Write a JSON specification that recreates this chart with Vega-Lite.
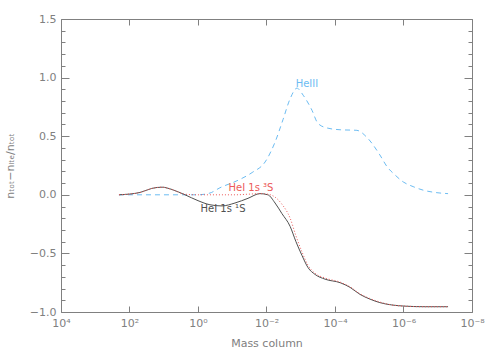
{
  "$schema": "https://vega.github.io/schema/vega-lite/v6.json",
  "width": 411,
  "height": 293,
  "autosize": "none",
  "padding": {"left": 61, "top": 19, "right": 19, "bottom": 38},
  "background": "white",
  "config": {
    "view": {"stroke": "#808080", "strokeWidth": 1},
    "font": "DejaVu Sans",
    "axis": {"domain": false, "grid": false, "tickColor": "#808080", "labelColor": "#808080", "titleColor": "#808080", "labelFont": "DejaVu Sans", "titleFont": "DejaVu Sans", "labelFontSize": 11, "titleFontSize": 11, "titleFontWeight": "normal"}
  },
  "data": {"values": [
    {"m": 202.8, "v": 0.0, "s": "HeIII"},
    {"m": 12.9, "v": 0.0, "s": "HeIII"},
    {"m": 1, "v": 0.0, "s": "HeIII"},
    {"m": 0.447, "v": 0.015, "s": "HeIII"},
    {"m": 0.229, "v": 0.06, "s": "HeIII"},
    {"m": 0.0724, "v": 0.12, "s": "HeIII"},
    {"m": 0.0263, "v": 0.19, "s": "HeIII"},
    {"m": 0.011, "v": 0.28, "s": "HeIII"},
    {"m": 0.00562, "v": 0.45, "s": "HeIII"},
    {"m": 0.00331, "v": 0.64, "s": "HeIII"},
    {"m": 0.00204, "v": 0.82, "s": "HeIII"},
    {"m": 0.00129, "v": 0.91, "s": "HeIII"},
    {"m": 0.000851, "v": 0.85, "s": "HeIII"},
    {"m": 0.000468, "v": 0.72, "s": "HeIII"},
    {"m": 0.000316, "v": 0.61, "s": "HeIII"},
    {"m": 0.00017, "v": 0.57, "s": "HeIII"},
    {"m": 7.08e-5, "v": 0.555, "s": "HeIII"},
    {"m": 2.29e-5, "v": 0.55, "s": "HeIII"},
    {"m": 1.17e-5, "v": 0.49, "s": "HeIII"},
    {"m": 4.9e-6, "v": 0.34, "s": "HeIII"},
    {"m": 3.02e-6, "v": 0.24, "s": "HeIII"},
    {"m": 1.78e-6, "v": 0.17, "s": "HeIII"},
    {"m": 1.02e-6, "v": 0.11, "s": "HeIII"},
    {"m": 5.25e-7, "v": 0.07, "s": "HeIII"},
    {"m": 2.69e-7, "v": 0.04, "s": "HeIII"},
    {"m": 1.2e-7, "v": 0.02, "s": "HeIII"},
    {"m": 5.0e-8, "v": 0.01, "s": "HeIII"},

    {"m": 202.8, "v": 0.0, "s": "HeI 1s 1S"},
    {"m": 49.3, "v": 0.02, "s": "HeI 1s 1S"},
    {"m": 22.0, "v": 0.055, "s": "HeI 1s 1S"},
    {"m": 11.2, "v": 0.065, "s": "HeI 1s 1S"},
    {"m": 5.74, "v": 0.045, "s": "HeI 1s 1S"},
    {"m": 2.4, "v": 0.0, "s": "HeI 1s 1S"},
    {"m": 1, "v": -0.05, "s": "HeI 1s 1S"},
    {"m": 0.447, "v": -0.085, "s": "HeI 1s 1S"},
    {"m": 0.2, "v": -0.095, "s": "HeI 1s 1S"},
    {"m": 0.0832, "v": -0.07, "s": "HeI 1s 1S"},
    {"m": 0.0347, "v": -0.03, "s": "HeI 1s 1S"},
    {"m": 0.0155, "v": 0.01, "s": "HeI 1s 1S"},
    {"m": 0.00912, "v": 0.0, "s": "HeI 1s 1S"},
    {"m": 0.00562, "v": -0.07, "s": "HeI 1s 1S"},
    {"m": 0.00355, "v": -0.16, "s": "HeI 1s 1S"},
    {"m": 0.00204, "v": -0.27, "s": "HeI 1s 1S"},
    {"m": 0.00138, "v": -0.4, "s": "HeI 1s 1S"},
    {"m": 0.000912, "v": -0.52, "s": "HeI 1s 1S"},
    {"m": 0.000617, "v": -0.62, "s": "HeI 1s 1S"},
    {"m": 0.00038, "v": -0.68, "s": "HeI 1s 1S"},
    {"m": 0.000195, "v": -0.72, "s": "HeI 1s 1S"},
    {"m": 7.08e-5, "v": -0.75, "s": "HeI 1s 1S"},
    {"m": 3.63e-5, "v": -0.79, "s": "HeI 1s 1S"},
    {"m": 1.86e-5, "v": -0.85, "s": "HeI 1s 1S"},
    {"m": 9.55e-6, "v": -0.89, "s": "HeI 1s 1S"},
    {"m": 4.9e-6, "v": -0.92, "s": "HeI 1s 1S"},
    {"m": 2.19e-6, "v": -0.94, "s": "HeI 1s 1S"},
    {"m": 9.12e-7, "v": -0.95, "s": "HeI 1s 1S"},
    {"m": 2.34e-7, "v": -0.955, "s": "HeI 1s 1S"},
    {"m": 5.0e-8, "v": -0.955, "s": "HeI 1s 1S"},

    {"m": 202.8, "v": 0.0, "s": "HeI 1s 3S"},
    {"m": 49.3, "v": 0.02, "s": "HeI 1s 3S"},
    {"m": 22.0, "v": 0.055, "s": "HeI 1s 3S"},
    {"m": 11.2, "v": 0.065, "s": "HeI 1s 3S"},
    {"m": 5.74, "v": 0.045, "s": "HeI 1s 3S"},
    {"m": 2.4, "v": 0.005, "s": "HeI 1s 3S"},
    {"m": 1, "v": 0.0, "s": "HeI 1s 3S"},
    {"m": 0.447, "v": 0.0, "s": "HeI 1s 3S"},
    {"m": 0.2, "v": 0.0, "s": "HeI 1s 3S"},
    {"m": 0.0832, "v": 0.0, "s": "HeI 1s 3S"},
    {"m": 0.0347, "v": 0.005, "s": "HeI 1s 3S"},
    {"m": 0.0155, "v": 0.01, "s": "HeI 1s 3S"},
    {"m": 0.00912, "v": 0.005, "s": "HeI 1s 3S"},
    {"m": 0.00562, "v": -0.02, "s": "HeI 1s 3S"},
    {"m": 0.00355, "v": -0.08, "s": "HeI 1s 3S"},
    {"m": 0.00204, "v": -0.2, "s": "HeI 1s 3S"},
    {"m": 0.00138, "v": -0.35, "s": "HeI 1s 3S"},
    {"m": 0.000912, "v": -0.49, "s": "HeI 1s 3S"},
    {"m": 0.000617, "v": -0.6, "s": "HeI 1s 3S"},
    {"m": 0.00038, "v": -0.67, "s": "HeI 1s 3S"},
    {"m": 0.000195, "v": -0.71, "s": "HeI 1s 3S"},
    {"m": 7.08e-5, "v": -0.745, "s": "HeI 1s 3S"},
    {"m": 3.63e-5, "v": -0.785, "s": "HeI 1s 3S"},
    {"m": 1.86e-5, "v": -0.845, "s": "HeI 1s 3S"},
    {"m": 9.55e-6, "v": -0.885, "s": "HeI 1s 3S"},
    {"m": 4.9e-6, "v": -0.915, "s": "HeI 1s 3S"},
    {"m": 2.19e-6, "v": -0.94, "s": "HeI 1s 3S"},
    {"m": 9.12e-7, "v": -0.95, "s": "HeI 1s 3S"},
    {"m": 2.34e-7, "v": -0.955, "s": "HeI 1s 3S"},
    {"m": 5.0e-8, "v": -0.955, "s": "HeI 1s 3S"}
  ]},
  "resolve": {"axis": {"x": "independent", "y": "independent"}},
  "layer": [
    {
      "transform": [{"filter": "datum.s === 'HeIII'"}],
      "mark": {"type": "line", "interpolate": "monotone", "strokeWidth": 1, "strokeDash": [5, 4]},
      "encoding": {
        "x": {"field": "m", "type": "quantitative",
          "scale": {"type": "log", "domain": [1e-8, 1e4], "reverse": true, "nice": false},
          "axis": {"orient": "bottom", "title": "Mass column", "titlePadding": 9,
            "values": [1e4, 100, 1, 0.01, 0.0001, 1e-6, 1e-8],
            "tickSize": -6, "labelPadding": 11, "labelFlush": false,
            "labelExpr": "datum.value >= 1000 ? '10⁴' : datum.value >= 10 ? '10²' : datum.value >= 0.1 ? '10⁰' : datum.value >= 0.001 ? '10⁻²' : datum.value >= 1e-5 ? '10⁻⁴' : datum.value >= 1e-7 ? '10⁻⁶' : '10⁻⁸'"}},
        "y": {"field": "v", "type": "quantitative",
          "scale": {"domain": [-1, 1.5], "nice": false, "zero": false},
          "axis": {"orient": "left", "title": "nₜₒₜ−nₗₜₑ/nₜₒₜ", "titlePadding": 14,
            "values": [-1, -0.9, -0.8, -0.7, -0.6, -0.5, -0.4, -0.3, -0.2, -0.1, 0, 0.1, 0.2, 0.3, 0.4, 0.5, 0.6, 0.7, 0.8, 0.9, 1, 1.1, 1.2, 1.3, 1.4, 1.5],
            "tickSize": {"condition": {"test": "abs(datum.value*2 - round(datum.value*2)) < 0.001", "value": -8}, "value": -4},
            "labelPadding": 13,
            "labelFlush": false,
            "labelExpr": "abs(datum.value*2 - round(datum.value*2)) < 0.001 ? format(datum.value, '.1f') : ''"}},
        "color": {"field": "s", "type": "nominal", "legend": null,
          "scale": {"domain": ["HeIII", "HeI 1s 3S", "HeI 1s 1S"], "range": ["#6cbcf2", "#ec5a5a", "#505050"]}}
      }
    },
    {
      "transform": [{"filter": "datum.s === 'HeI 1s 1S'"}],
      "mark": {"type": "line", "interpolate": "monotone", "strokeWidth": 1},
      "encoding": {
        "x": {"field": "m", "type": "quantitative",
          "axis": {"orient": "top", "title": null, "labels": false,
            "values": [1e4, 100, 1, 0.01, 0.0001, 1e-6, 1e-8], "tickSize": -6}},
        "y": {"field": "v", "type": "quantitative",
          "axis": {"orient": "right", "title": null, "labels": false,
            "values": [-1, -0.9, -0.8, -0.7, -0.6, -0.5, -0.4, -0.3, -0.2, -0.1, 0, 0.1, 0.2, 0.3, 0.4, 0.5, 0.6, 0.7, 0.8, 0.9, 1, 1.1, 1.2, 1.3, 1.4, 1.5],
            "tickSize": {"condition": {"test": "abs(datum.value*2 - round(datum.value*2)) < 0.001", "value": -8}, "value": -4}}},
        "color": {"field": "s", "type": "nominal", "legend": null}
      }
    },
    {
      "transform": [{"filter": "datum.s === 'HeI 1s 3S'"}],
      "mark": {"type": "line", "interpolate": "monotone", "strokeWidth": 1, "strokeDash": [1, 2]},
      "encoding": {
        "x": {"field": "m", "type": "quantitative", "axis": null},
        "y": {"field": "v", "type": "quantitative", "axis": null},
        "color": {"field": "s", "type": "nominal", "legend": null}
      }
    },
    {
      "data": {"values": [
        {"m": 0.00066, "v": 0.945, "s": "HeIII", "label": "HeIII"},
        {"m": 0.0284, "v": 0.058, "s": "HeI 1s 3S", "label": "HeI 1s ³S"},
        {"m": 0.186, "v": -0.121, "s": "HeI 1s 1S", "label": "HeI 1s ¹S"}
      ]},
      "mark": {"type": "text", "fontSize": 10, "font": "DejaVu Sans", "align": "center", "baseline": "middle"},
      "encoding": {
        "x": {"field": "m", "type": "quantitative", "axis": null},
        "y": {"field": "v", "type": "quantitative", "axis": null},
        "text": {"field": "label"},
        "color": {"field": "s", "type": "nominal", "legend": null}
      }
    }
  ]
}
